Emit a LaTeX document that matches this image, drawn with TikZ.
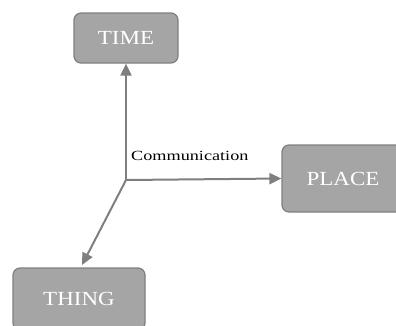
\documentclass[tikz,border=0pt]{standalone}
\usepackage{fontspec}
\setmainfont{Liberation Serif}
\newfontfamily\boxfont[FakeStretch=1.15]{Liberation Serif}
\newfontfamily\edgefont[FakeStretch=1.3]{Liberation Serif}
\usetikzlibrary{arrows.meta}
\definecolor{boxfill}{HTML}{A5A5A5}
\definecolor{boxline}{HTML}{7F7F7F}
\definecolor{linkgray}{HTML}{7F7F7F}
\tikzset{
  topic/.style={draw=boxline, fill=boxfill, line width=1.2pt, rounded corners=7pt,
    text=white, font=\boxfont\fontsize{20}{22}\selectfont, inner sep=0pt},
  link/.style={draw=linkgray, line width=2pt,
    -{Triangle[length=12pt,width=11pt]}}
}
\begin{document}
\begin{tikzpicture}[x=1pt,y=-1pt]
  \useasboundingbox (0,0) rectangle (396,325);
  \clip (0,0) rectangle (396,325);
  \node[topic, minimum width=104pt, minimum height=50pt] (time) at (126,38) {TIME};
  \node[topic, minimum width=122pt, minimum height=67pt] (place) at (343,178.5) {PLACE};
  \node[topic, minimum width=132pt, minimum height=62pt] (thing) at (79,299) {THING};
  \coordinate (hub) at (126,180);
  \coordinate (thingtop) at (82,265);
  \draw[link] (hub) -- (time.south);
  \draw[link] (hub) -- (place.west);
  \draw[link] (hub) -- (thingtop);
  \node[anchor=base west, inner sep=0pt, font=\edgefont\fontsize{14}{16}\selectfont] (lbl) at (131,160) {Communication};
\end{tikzpicture}
\end{document}
